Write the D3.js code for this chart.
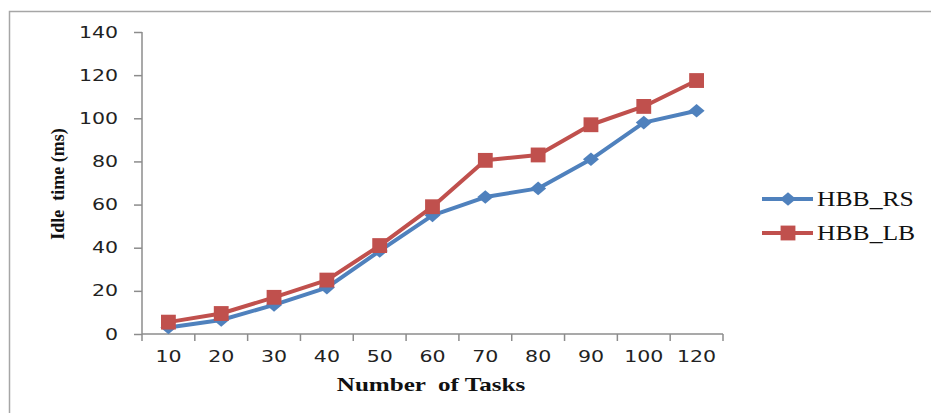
<!DOCTYPE html>
<html>
<head>
<meta charset="utf-8">
<script src="https://cdn.jsdelivr.net/npm/d3@7"></script>
<style>
  body { margin: 0; background: #fff; }
  svg { display: block; }
  text { white-space: pre; }
</style>
</head>
<body>
<svg id="chart"></svg>
<script>
var tasks = ['10', '20', '30', '40', '50', '60', '70', '80', '90', '100', '120'];
var hbbRS = [3, 6.5, 13.5, 21.5, 38.5, 55, 63.5, 67.5, 81, 98, 103.5];
var hbbLB = [5.5, 9.5, 17, 25, 41, 59, 80.5, 83, 97, 105.5, 117.5];
var yTicks = [0, 20, 40, 60, 80, 100, 120, 140];

var width = 931,
    height = 413;

var svg = d3.select('#chart')
    .attr('width', width)
    .attr('height', height);

// the source picture is stretched sideways, so widen the text to match
function stretch(sel, k) {
  sel.each(function() {
    var len = this.getComputedTextLength();
    d3.select(this)
      .attr('textLength', len * k)
      .attr('lengthAdjust', 'spacingAndGlyphs');
  });
}

// outer frame (runs off the right and bottom edge)
svg.append('rect')
    .attr('x', 9.5).attr('y', 11.5)
    .attr('width', 940).attr('height', 420)
    .attr('fill', 'none')
    .attr('stroke', '#a6a6a6')
    .attr('stroke-width', 1.5);

var plotLeft = 142, plotRight = 723, plotTop = 32, plotBottom = 334;

var x = d3.scaleBand().domain(tasks).range([plotLeft, plotRight]);
var y = d3.scaleLinear().domain([0, 140]).range([plotBottom, plotTop]);

var tickFont = '"DejaVu Sans", Verdana, sans-serif';
var serif = '"Liberation Serif", "Times New Roman", serif';

// y axis
var yAxis = svg.append('g')
    .attr('transform', 'translate(' + plotLeft + ',0)')
    .call(d3.axisLeft(y).tickValues(yTicks).tickSize(8).tickPadding(16));
yAxis.attr('font-family', null);
yAxis.select('.domain').attr('stroke', '#8c8c8c').attr('stroke-width', 1.5)
    .attr('d', 'M0,' + plotTop + 'V' + plotBottom);
yAxis.selectAll('.tick line').attr('stroke', '#8c8c8c').attr('stroke-width', 1.5);
yAxis.selectAll('.tick text')
    .attr('fill', '#222')
    .style('font-family', tickFont)
    .style('font-size', '16px')
    .call(stretch, 1.28);

// x axis: ticks at band edges
var xAxis = svg.append('g')
    .attr('transform', 'translate(0,' + plotBottom + ')')
    .call(d3.axisBottom(x).tickSize(0).tickPadding(17));
xAxis.attr('font-family', null);
xAxis.select('.domain').attr('stroke', '#8c8c8c').attr('stroke-width', 1.5)
    .attr('d', 'M' + plotLeft + ',0H' + plotRight);
xAxis.selectAll('.tick text')
    .attr('fill', '#222')
    .style('font-family', tickFont)
    .style('font-size', '16px')
    .call(stretch, 1.28);
var edges = tasks.map(function(d) { return x(d); }).concat([plotRight]);
xAxis.selectAll('.edge')
    .data(edges)
    .enter().append('line')
    .attr('x1', function(d) { return d; })
    .attr('x2', function(d) { return d; })
    .attr('y1', 0).attr('y2', 7)
    .attr('stroke', '#8c8c8c')
    .attr('stroke-width', 1.5);

// axis titles
svg.append('text')
    .attr('x', 431).attr('y', 391)
    .attr('text-anchor', 'middle')
    .style('font-family', serif)
    .style('font-weight', 'bold')
    .style('font-size', '19px')
    .attr('fill', '#111')
    .text('Number  of Tasks')
    .call(stretch, 1.32);

svg.append('text')
    .attr('transform', 'translate(64,184) rotate(-90)')
    .attr('text-anchor', 'middle')
    .style('font-family', serif)
    .style('font-weight', 'bold')
    .style('font-size', '18px')
    .attr('fill', '#111')
    .text('Idle  time (ms)');

// wide diamond like the spreadsheet marker
var wideDiamond = {
  draw: function(ctx, size) {
    var w = Math.sqrt(size) * 0.8, h = Math.sqrt(size) * 0.68;
    ctx.moveTo(0, -h); ctx.lineTo(w, 0); ctx.lineTo(0, h); ctx.lineTo(-w, 0); ctx.closePath();
  }
};

var cx = function(d, i) { return x(tasks[i]) + x.bandwidth() / 2; };
var line = d3.line()
    .x(function(d, i) { return cx(d, i); })
    .y(function(d) { return y(d); });

var series = [
  { name: 'HBB_RS', values: hbbRS, color: '#4f81bd', marker: wideDiamond, size: 100 },
  { name: 'HBB_LB', values: hbbLB, color: '#c0504d', marker: d3.symbolSquare, size: 220 }
];

series.forEach(function(s) {
  svg.append('path')
      .datum(s.values)
      .attr('fill', 'none')
      .attr('stroke', s.color)
      .attr('stroke-width', 4)
      .attr('stroke-linejoin', 'round')
      .attr('d', line);

  svg.selectAll('.m-' + s.name)
      .data(s.values)
      .enter().append('path')
      .attr('transform', function(d, i) { return 'translate(' + cx(d, i) + ',' + y(d) + ')'; })
      .attr('d', d3.symbol().type(s.marker).size(s.size))
      .attr('fill', s.color);
});

// legend
var legend = svg.append('g');
series.forEach(function(s, i) {
  var ly = 199 + i * 34;
  legend.append('line')
      .attr('x1', 762).attr('x2', 813)
      .attr('y1', ly).attr('y2', ly)
      .attr('stroke', s.color)
      .attr('stroke-width', 4);
  legend.append('path')
      .attr('transform', 'translate(788,' + ly + ')')
      .attr('d', d3.symbol().type(s.marker).size(s.size))
      .attr('fill', s.color);
  legend.append('text')
      .attr('x', 817).attr('y', ly + 7)
      .style('font-family', serif)
      .style('font-size', '20px')
      .attr('fill', '#111')
      .text(s.name)
      .call(stretch, 1.28);
});
</script>
</body>
</html>
